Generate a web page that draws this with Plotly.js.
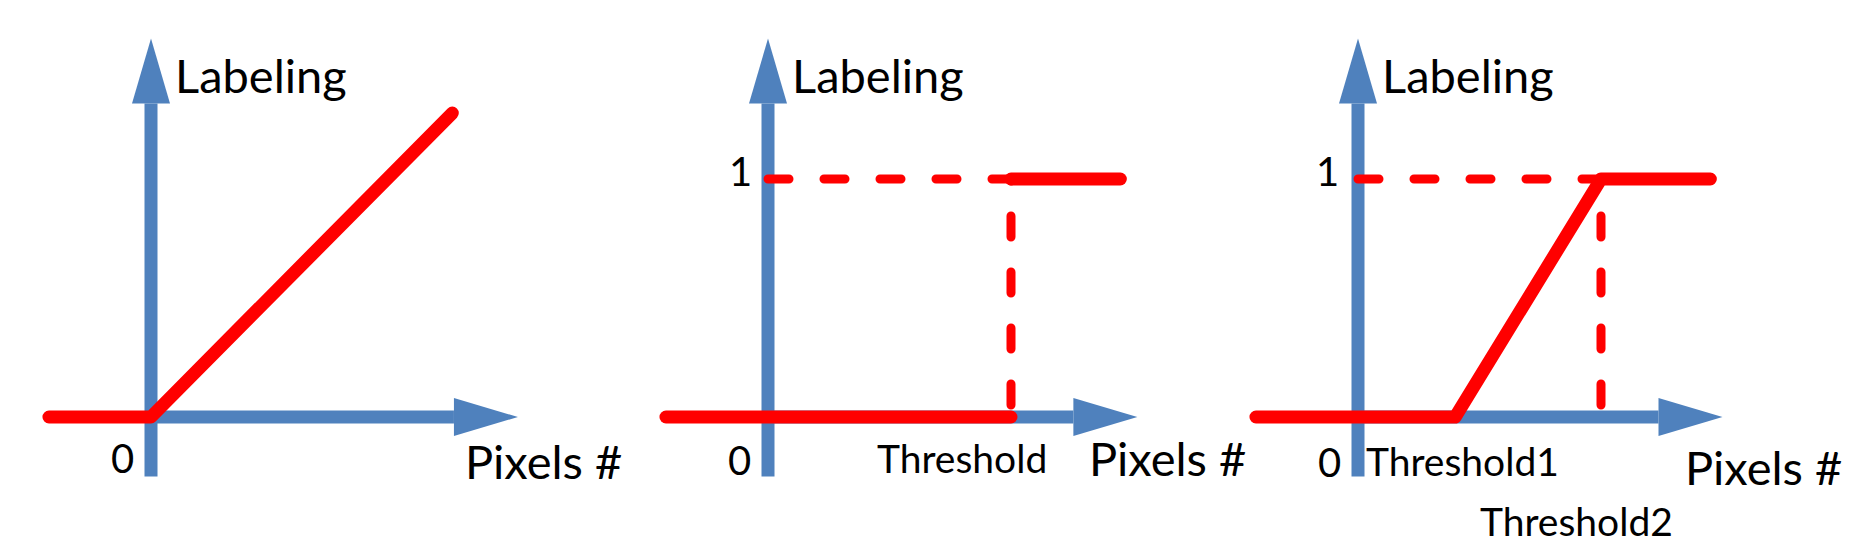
<!DOCTYPE html>
<html>
<head>
<meta charset="utf-8">
<script src="https://cdn.plot.ly/plotly-3.0.1.min.js"></script>
<style>
  html, body { margin: 0; padding: 0; background: #fff; }
  #plot { width: 1855px; height: 555px; }
  #plot .scatterlayer .js-line { stroke-linecap: round; stroke-linejoin: round; }
</style>
</head>
<body>
<div id="plot"></div>
<script>
// x = pixels # (1 = threshold), y = labeling

// panel 1: linear labeling
var linearX = [-0.42, 0, 1.24];
var linearY = [0, 0, 1.277];

// panel 2: hard threshold (null = break, the vertical part is only a dashed guide)
var threshold = 1;
var stepX = [-0.42, threshold, null, threshold, 1.45];
var stepY = [0, 0, null, 1, 1];

// panel 3: ramp between two thresholds
var threshold1 = 0.40;
var threshold2 = 1;
var rampX = [-0.42, threshold1, threshold2, 1.45];
var rampY = [0, 0, 1, 1];

// dashed guides to labeling = 1
var guide2X = [0, threshold, threshold];
var guide3X = [0, threshold2, threshold2];
var guideY = [1, 1, 0];

// axis arrows, per panel
var yAxisBottom = -0.25;
var yAxisTop = 1.59;
var xAxisEnd = [1.51, 1.52, 1.50];

// texts
var yTitles = ['Labeling', 'Labeling', 'Labeling'];
var xTitles = ['Pixels #', 'Pixels #', 'Pixels #'];
var xTitleX = [1.284, 1.313, 1.337];
var xTitleY = [-0.185, -0.174, -0.21];
var zeroY = [-0.172, -0.18, -0.19];
var oneX = [null, -0.115, -0.126];
var thrLabels = ['Threshold', 'Threshold1', 'Threshold2'];
var thrLabelAxis = ['x2', 'x3', 'x3'];
var thrLabelX = [0.80, 0.432, 0.899];
var thrLabelY = [-0.174, -0.185, -0.437];

var W = 1855, H = 555;
var X_UNIT = 243, Y_UNIT = 238;           // px per data unit
var originPx = [151, 768, 1358];          // where x = 0 sits in each panel
var baselinePx = 417;                     // where y = 0 sits
var HEAD_LEN = 65, HEAD_HALF = 19;
var BLUE = '#4F81BD', RED = '#FF0000';
var FONT = 'Lato, "Open Sans", sans-serif';
var axisIds = ['x', 'x2', 'x3'];

function xRange(o) { return [-o / X_UNIT, (W - o) / X_UNIT]; }

var data = [
  { x: guide2X, y: guideY, xaxis: 'x2', mode: 'lines', hoverinfo: 'skip',
    line: { color: RED, width: 9, dash: '21px,35px' } },
  { x: guide3X, y: guideY, xaxis: 'x3', mode: 'lines', hoverinfo: 'skip',
    line: { color: RED, width: 9, dash: '21px,35px' } },
  { x: linearX, y: linearY, xaxis: 'x', mode: 'lines', line: { color: RED, width: 13 } },
  { x: stepX, y: stepY, xaxis: 'x2', mode: 'lines', connectgaps: false,
    line: { color: RED, width: 13 } },
  { x: rampX, y: rampY, xaxis: 'x3', mode: 'lines', line: { color: RED, width: 13 } }
];

var shapes = [];
var annotations = [];
axisIds.forEach(function(ax, i) {
  // vertical axis
  shapes.push({ type: 'line', xref: ax, yref: 'y', layer: 'below',
    x0: 0, x1: 0, y0: yAxisBottom, y1: yAxisTop - HEAD_LEN / Y_UNIT,
    line: { color: BLUE, width: 13 } });
  shapes.push({ type: 'path', xref: ax, yref: 'y', layer: 'below',
    xsizemode: 'pixel', ysizemode: 'pixel', xanchor: 0, yanchor: yAxisTop,
    path: 'M0,0 L' + (-HEAD_HALF) + ',' + (-HEAD_LEN) + ' L' + HEAD_HALF + ',' + (-HEAD_LEN) + ' Z',
    fillcolor: BLUE, line: { width: 0 } });
  // horizontal axis
  shapes.push({ type: 'line', xref: ax, yref: 'y', layer: 'below',
    x0: 0, x1: xAxisEnd[i] - (HEAD_LEN - 1) / X_UNIT, y0: 0, y1: 0,
    line: { color: BLUE, width: 13 } });
  shapes.push({ type: 'path', xref: ax, yref: 'y', layer: 'below',
    xsizemode: 'pixel', ysizemode: 'pixel', xanchor: xAxisEnd[i], yanchor: 0,
    path: 'M0,0 L' + (1 - HEAD_LEN) + ',' + HEAD_HALF + ' L' + (1 - HEAD_LEN) + ',' + (-HEAD_HALF) + ' Z',
    fillcolor: BLUE, line: { width: 0 } });

  annotations.push({ text: yTitles[i], xref: ax, yref: 'y', x: 0.09, y: 1.435,
    xanchor: 'left', yanchor: 'middle', showarrow: false,
    font: { family: FONT, size: 47, color: '#000' } });
  annotations.push({ text: xTitles[i], xref: ax, yref: 'y', x: xTitleX[i], y: xTitleY[i],
    xanchor: 'left', yanchor: 'middle', showarrow: false,
    font: { family: FONT, size: 47, color: '#000' } });
  annotations.push({ text: '0', xref: ax, yref: 'y', x: -0.117, y: zeroY[i],
    xanchor: 'center', yanchor: 'middle', showarrow: false,
    font: { family: FONT, size: 40, color: '#000' } });
  if (oneX[i] !== null) {
    annotations.push({ text: '1', xref: ax, yref: 'y', x: oneX[i], y: 1.035,
      xanchor: 'center', yanchor: 'middle', showarrow: false,
      font: { family: FONT, size: 40, color: '#000' } });
  }
});

thrLabels.forEach(function(t, i) {
  annotations.push({ text: t, xref: thrLabelAxis[i], yref: 'y', x: thrLabelX[i], y: thrLabelY[i],
    xanchor: 'center', yanchor: 'middle', showarrow: false,
    font: { family: FONT, size: 39, color: '#000' } });
});

var hidden = { visible: false, fixedrange: true };
var layout = {
  width: W, height: H,
  margin: { l: 0, r: 0, t: 0, b: 0 },
  paper_bgcolor: '#fff', plot_bgcolor: '#fff',
  showlegend: false,
  xaxis: Object.assign({ domain: [0, 1], range: xRange(originPx[0]) }, hidden),
  xaxis2: Object.assign({ domain: [0, 1], range: xRange(originPx[1]), overlaying: 'x', anchor: 'y' }, hidden),
  xaxis3: Object.assign({ domain: [0, 1], range: xRange(originPx[2]), overlaying: 'x', anchor: 'y' }, hidden),
  yaxis: Object.assign({ range: [-(H - baselinePx) / Y_UNIT, baselinePx / Y_UNIT] }, hidden),
  shapes: shapes,
  annotations: annotations
};

Plotly.newPlot('plot', data, layout, { displayModeBar: false, staticPlot: true });
</script>
</body>
</html>
